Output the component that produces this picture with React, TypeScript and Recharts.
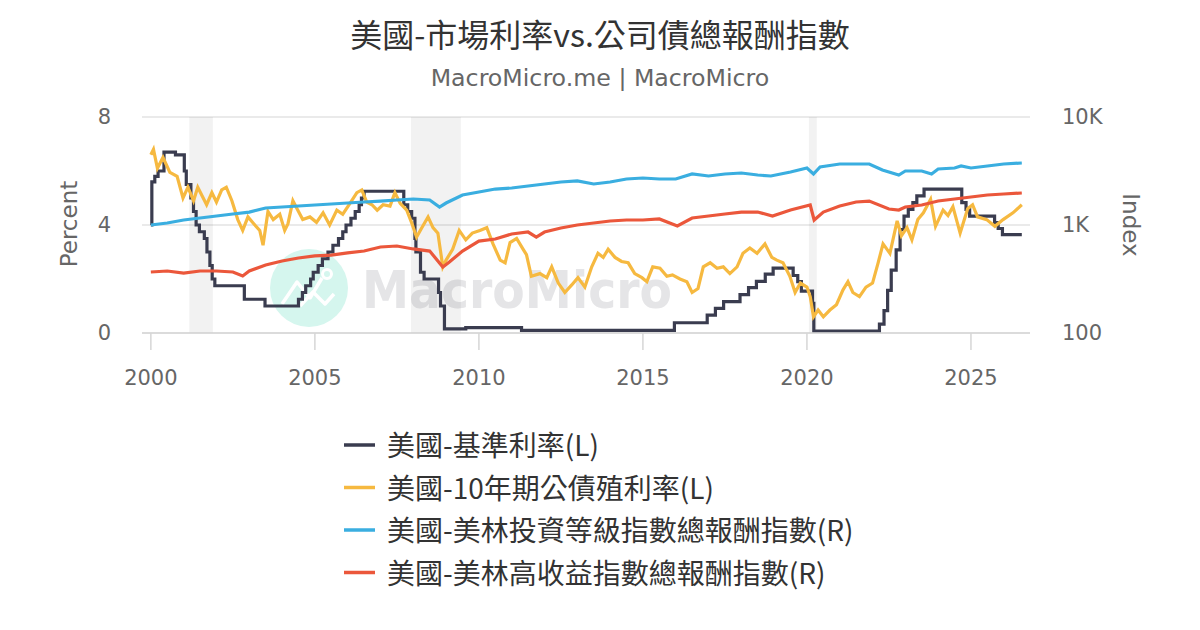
import { ComposedChart, Line, XAxis, YAxis, CartesianGrid, ReferenceArea } from 'recharts';

const FONT = "'DejaVu Sans', 'Noto Sans CJK TC', sans-serif";
const CJK = "'Noto Sans CJK TC', sans-serif";

// 美國-基準利率 (step changes)
const fedDates = [
  2000.0, 2000.03, 2000.12, 2000.22, 2000.4, 2000.75, 2001.02, 2001.08, 2001.22, 2001.3,
  2001.38, 2001.48, 2001.63, 2001.71, 2001.8, 2001.87, 2001.95, 2002.85, 2003.48, 2004.5,
  2004.62, 2004.72, 2004.87, 2004.95, 2005.1, 2005.23, 2005.4, 2005.55, 2005.72, 2005.85,
  2005.95, 2006.1, 2006.23, 2006.35, 2006.42, 2006.5, 2007.71, 2007.83, 2007.95, 2008.05,
  2008.08, 2008.22, 2008.33, 2008.77, 2008.83, 2008.95, 2009.6, 2010.5, 2011.3, 2014.5,
  2015.96, 2016.96, 2017.21, 2017.46, 2017.96, 2018.22, 2018.46, 2018.73, 2018.97, 2019.58,
  2019.72, 2019.83, 2020.17, 2020.21, 2022.21, 2022.35, 2022.46, 2022.57, 2022.72, 2022.84,
  2022.96, 2023.09, 2023.23, 2023.35, 2023.57, 2024.72, 2024.85, 2024.96, 2025.72, 2025.83,
  2025.96, 2026.55,
];
const fedRates = [
  4.0, 5.6, 5.8, 6.0, 6.7, 6.6, 6.0, 5.5, 5.0, 4.5,
  4.0, 3.75, 3.5, 3.0, 2.5, 2.0, 1.75, 1.25, 1.0, 1.25,
  1.5, 1.75, 2.0, 2.25, 2.5, 2.75, 3.0, 3.25, 3.5, 3.75,
  4.0, 4.25, 4.5, 4.75, 5.0, 5.25, 4.75, 4.5, 4.25, 3.5,
  3.0, 2.25, 2.0, 1.5, 1.0, 0.15, 0.2, 0.2, 0.1, 0.1,
  0.38, 0.66, 0.91, 1.16, 1.42, 1.68, 1.91, 2.18, 2.4, 2.13,
  1.9, 1.55, 1.1, 0.07, 0.33, 0.83, 1.58, 2.33, 3.08, 3.83,
  4.33, 4.58, 4.83, 5.08, 5.33, 4.83, 4.58, 4.33, 4.09, 3.87,
  3.64, 3.64,
];

// 美國-10年期公債殖利率
const yieldDates = [
  2000.0, 2000.08, 2000.2, 2000.37, 2000.58, 2000.8, 2000.98, 2001.13, 2001.3, 2001.43,
  2001.7, 2001.86, 2002.0, 2002.16, 2002.3, 2002.47, 2002.65, 2002.8, 2002.96, 2003.17,
  2003.32, 2003.42, 2003.57, 2003.73, 2003.93, 2004.08, 2004.18, 2004.33, 2004.48, 2004.63,
  2004.85, 2005.05, 2005.25, 2005.45, 2005.67, 2005.85, 2006.07, 2006.28, 2006.43, 2006.58,
  2006.74, 2006.9, 2007.08, 2007.29, 2007.44, 2007.6, 2007.8, 2007.96, 2008.1, 2008.26,
  2008.45, 2008.6, 2008.75, 2008.9, 2009.0, 2009.2, 2009.4, 2009.6, 2009.8, 2010.03,
  2010.24, 2010.43, 2010.65, 2010.8, 2010.95, 2011.15, 2011.35, 2011.45, 2011.6, 2011.86,
  2012.07, 2012.22, 2012.42, 2012.62, 2012.83, 2013.02, 2013.23, 2013.44, 2013.63, 2013.79,
  2013.94, 2014.15, 2014.35, 2014.55, 2014.75, 2014.97, 2015.12, 2015.3, 2015.52, 2015.73,
  2015.9, 2016.13, 2016.34, 2016.5, 2016.68, 2016.84, 2017.05, 2017.26, 2017.45, 2017.65,
  2017.87, 2018.05, 2018.26, 2018.48, 2018.72, 2018.93, 2019.08, 2019.27, 2019.48, 2019.64,
  2019.8, 2020.0, 2020.1, 2020.2, 2020.34, 2020.5, 2020.7, 2020.9, 2021.1, 2021.25,
  2021.4, 2021.6, 2021.8, 2022.0, 2022.17, 2022.32, 2022.53, 2022.75, 2022.88, 2023.05,
  2023.2, 2023.38, 2023.55, 2023.77, 2023.92, 2024.15, 2024.3, 2024.45, 2024.67, 2024.9,
  2025.05, 2025.2, 2025.48, 2025.73, 2025.98, 2026.28, 2026.55,
];
const yieldValues = [
  6.6, 6.8, 6.1, 6.5, 5.95, 5.8, 5.0, 5.4, 4.9, 5.4,
  4.75, 5.2, 4.85, 5.3, 5.4, 4.9, 4.2, 3.8, 4.3, 4.0,
  3.8, 3.25, 4.5, 4.2, 4.4, 3.8, 4.05, 4.9, 4.55, 4.2,
  4.3, 4.1, 4.45, 4.0, 4.55, 4.4, 4.8, 5.2, 5.3, 4.85,
  4.75, 4.55, 4.75, 4.7, 5.2, 4.8, 4.55, 4.05, 3.55, 3.9,
  4.3, 3.9, 3.7, 2.45, 2.7, 3.1, 3.8, 3.45, 3.7, 3.8,
  3.9, 3.3, 2.7, 2.6, 3.35, 3.5, 3.1, 2.9, 2.1, 2.2,
  2.05, 2.45, 1.85, 1.5, 1.78, 2.05, 1.7, 2.45, 2.95, 2.8,
  3.1, 2.8, 2.65, 2.6, 2.2, 2.05, 1.9, 2.45, 2.4, 2.1,
  2.15, 2.0, 1.9, 1.5, 1.65, 2.45, 2.6, 2.4, 2.45, 2.2,
  2.45, 2.95, 3.15, 2.95, 3.3, 2.8, 2.7, 2.6, 2.1, 1.5,
  1.85, 1.7, 1.35, 0.6, 0.85, 0.6, 0.85, 1.05, 1.6, 1.9,
  1.5, 1.35, 1.7, 1.85, 2.6, 3.3, 2.95, 4.15, 3.6, 3.9,
  3.45, 4.2, 4.45, 4.95, 3.95, 4.55, 4.35, 4.68, 3.7, 4.6,
  4.75, 4.3, 4.2, 3.95, 4.2, 4.45, 4.75,
];

// 美國-美林投資等級指數總報酬指數
const igDates = [
  2000.0, 2000.5, 2001.0, 2001.5, 2002.0, 2002.5, 2003.0, 2003.5, 2004.0, 2004.5,
  2005.0, 2005.5, 2006.0, 2006.5, 2007.0, 2007.5, 2008.0, 2008.5, 2008.8, 2009.0,
  2009.5, 2010.0, 2010.5, 2011.0, 2011.5, 2012.0, 2012.5, 2013.0, 2013.5, 2014.0,
  2014.5, 2015.0, 2015.5, 2016.0, 2016.5, 2017.0, 2017.5, 2018.0, 2018.5, 2018.9,
  2019.5, 2020.0, 2020.2, 2020.4, 2020.8, 2021.0, 2021.5, 2021.9, 2022.3, 2022.8,
  2023.0, 2023.5, 2023.8, 2024.0, 2024.5, 2024.7, 2025.0, 2025.5, 2026.0, 2026.55,
];
const igIndex = [
  1000, 1044, 1112, 1161, 1211, 1264, 1318, 1436, 1468, 1500,
  1532, 1565, 1598, 1632, 1667, 1704, 1741, 1704, 1468, 1598,
  1896, 2022, 2153, 2200, 2296, 2397, 2500, 2556, 2397, 2500,
  2667, 2725, 2667, 2667, 2967, 2842, 2967, 3030, 2904, 2842,
  3095, 3373, 2967, 3446, 3594, 3672, 3672, 3672, 3230, 2904,
  3162, 3162, 2967, 3300, 3373, 3520, 3373, 3520, 3672, 3750,
];

// 美國-美林高收益指數總報酬指數
const hyDates = [
  2000.0, 2000.5, 2001.0, 2001.5, 2002.0, 2002.5, 2002.8, 2003.0, 2003.5, 2004.0,
  2004.5, 2005.0, 2005.5, 2006.0, 2006.5, 2007.0, 2007.5, 2008.0, 2008.5, 2008.9,
  2009.1, 2009.5, 2010.0, 2010.5, 2011.0, 2011.5, 2011.75, 2012.0, 2012.5, 2013.0,
  2013.5, 2014.0, 2014.5, 2015.0, 2015.5, 2016.05, 2016.5, 2017.0, 2017.5, 2018.0,
  2018.5, 2018.95, 2019.5, 2020.1, 2020.22, 2020.5, 2021.0, 2021.5, 2021.9, 2022.5,
  2022.8, 2023.0, 2023.5, 2024.0, 2024.5, 2025.0, 2025.5, 2026.0, 2026.55,
];
const hyIndex = [
  367, 375, 359, 375, 375, 367, 337, 375, 426, 464,
  495, 517, 527, 551, 574, 626, 639, 600, 574, 409,
  454, 574, 710, 742, 825, 861, 774, 861, 938, 1000,
  1044, 1089, 1112, 1112, 1137, 979, 1161, 1211, 1264, 1318,
  1318, 1211, 1377, 1532, 1112, 1318, 1500, 1632, 1667, 1406,
  1377, 1468, 1532, 1667, 1741, 1816, 1896, 1937, 1979,
];

const recessionStarts = [2001.17, 2007.93, 2020.06];
const recessionEnds = [2001.89, 2009.45, 2020.3];

const yearTicks = [2000, 2005, 2010, 2015, 2020, 2025];
const percentTicks = [0, 4, 8];
const indexTicks = [100, 1000, 10000];

const COLORS = {
  fed: '#3a3c4f',
  yield: '#f6b940',
  ig: '#3aaee0',
  hy: '#eb573b',
};

const legendItems = [
  { name: '美國-基準利率(L)', color: COLORS.fed },
  { name: '美國-10年期公債殖利率(L)', color: COLORS.yield },
  { name: '美國-美林投資等級指數總報酬指數(R)', color: COLORS.ig },
  { name: '美國-美林高收益指數總報酬指數(R)', color: COLORS.hy },
];

function buildRows() {
  const map = new Map<number, any>();
  const add = (dates: number[], values: number[], key: string) => {
    dates.forEach((d, i) => {
      const t = Math.round(d * 1000) / 1000;
      const row = map.get(t) ?? { t };
      row[key] = values[i];
      map.set(t, row);
    });
  };
  add(fedDates, fedRates, 'fed');
  add(yieldDates, yieldValues, 'yield');
  add(igDates, igIndex, 'ig');
  add(hyDates, hyIndex, 'hy');
  return [...map.values()].sort((a, b) => a.t - b.t);
}

const rows = buildRows();

function fmtIndex(v: number) {
  return v >= 1000 ? `${v / 1000}K` : `${v}`;
}

const tickStyle = { fill: '#666', fontSize: 21, fontFamily: FONT };

export default function App() {
  return (
    <div style={{ position: 'absolute', left: 0, top: 0, width: 1200, height: 630, background: '#fff', fontFamily: FONT }}>
      {/* watermark, behind the chart */}
      <svg width={1200} height={630} style={{ position: 'absolute', left: 0, top: 0 }}>
        <circle cx={309} cy={288} r={39} fill="#d5f6ee" />
        <polyline points="282,304 297,282 310,298 322,278" fill="none" stroke="#fff" strokeWidth={3.5} strokeLinejoin="round" />
        <polyline points="300,306 313,292 325,304 334,294" fill="none" stroke="#fff" strokeWidth={3.5} strokeLinejoin="round" />
        <circle cx={327} cy={274} r={4.5} fill="none" stroke="#fff" strokeWidth={3} />
        <text x={362} y={308} fontSize={52} fontWeight="bold" fill="#e5e5e7" textLength={310} lengthAdjust="spacingAndGlyphs" fontFamily={FONT}>
          MacroMicro
        </text>
      </svg>

      <div style={{ position: 'absolute', left: 0, top: 0 }}>
        <ComposedChart width={1200} height={400} data={rows} margin={{ top: 117, right: 110, bottom: 17, left: 82 }}>
          <CartesianGrid yAxisId="left" vertical={false} stroke="#e3e3e3" strokeWidth={1.5} />
          {recessionStarts.map((s, i) => (
            <ReferenceArea key={i} yAxisId="left" x1={s} x2={recessionEnds[i]} fill="#000" fillOpacity={0.05} stroke="none" />
          ))}
          <XAxis
            dataKey="t"
            type="number"
            domain={[1999.73, 2026.8]}
            ticks={yearTicks}
            allowDataOverflow
            height={50}
            tick={tickStyle}
            tickSize={17}
            tickMargin={20}
            tickLine={{ stroke: '#d6d6d6', strokeWidth: 1.5 }}
            axisLine={{ stroke: '#d6d6d6', strokeWidth: 1.5 }}
          />
          <YAxis
            yAxisId="left"
            orientation="left"
            domain={[0, 8]}
            ticks={percentTicks}
            width={60}
            tick={tickStyle}
            tickLine={false}
            axisLine={false}
            tickSize={0}
            tickMargin={31}
          />
          <YAxis
            yAxisId="right"
            orientation="right"
            scale="log"
            domain={[100, 10000]}
            ticks={indexTicks}
            width={60}
            tick={{ ...tickStyle, textAnchor: 'start' }}
            tickFormatter={fmtIndex}
            tickLine={false}
            axisLine={false}
            tickSize={0}
            tickMargin={32}
          />
          <Line yAxisId="left" type="stepAfter" dataKey="fed" stroke={COLORS.fed} strokeWidth={3.2} dot={false} connectNulls isAnimationActive={false} />
          <Line yAxisId="left" type="linear" dataKey="yield" stroke={COLORS.yield} strokeWidth={3.2} dot={false} connectNulls isAnimationActive={false} />
          <Line yAxisId="right" type="linear" dataKey="ig" stroke={COLORS.ig} strokeWidth={3.2} dot={false} connectNulls isAnimationActive={false} />
          <Line yAxisId="right" type="linear" dataKey="hy" stroke={COLORS.hy} strokeWidth={3.2} dot={false} connectNulls isAnimationActive={false} />
        </ComposedChart>
      </div>

      {/* titles, axis titles, legend */}
      <svg width={1200} height={630} style={{ position: 'absolute', left: 0, top: 0, pointerEvents: 'none' }} fontFamily={FONT}>
        <text x={600} y={33} fontSize={32} fill="#333" textAnchor="middle" dominantBaseline="central" fontFamily={CJK}>
          美國-市場利率vs.公司債總報酬指數
        </text>
        <text x={600} y={78} fontSize={23.7} fill="#666" textAnchor="middle" dominantBaseline="central">
          MacroMicro.me | MacroMicro
        </text>
        <text x={69} y={224} fontSize={23} fill="#666" textAnchor="middle" dominantBaseline="central" transform="rotate(-90 69 224)">
          Percent
        </text>
        <text x={1131} y={225} fontSize={23} fill="#666" textAnchor="middle" dominantBaseline="central" transform="rotate(90 1131 225)">
          Index
        </text>
        {legendItems.map((item, i) => {
          const y = 445 + i * 42.5;
          return (
            <g key={item.name}>
              <line x1={344} x2={375} y1={y} y2={y} stroke={item.color} strokeWidth={3.5} />
              <text x={387} y={y - 1} fontSize={28} fill="#333" dominantBaseline="central" fontFamily={CJK}>
                {item.name}
              </text>
            </g>
          );
        })}
      </svg>
    </div>
  );
}
